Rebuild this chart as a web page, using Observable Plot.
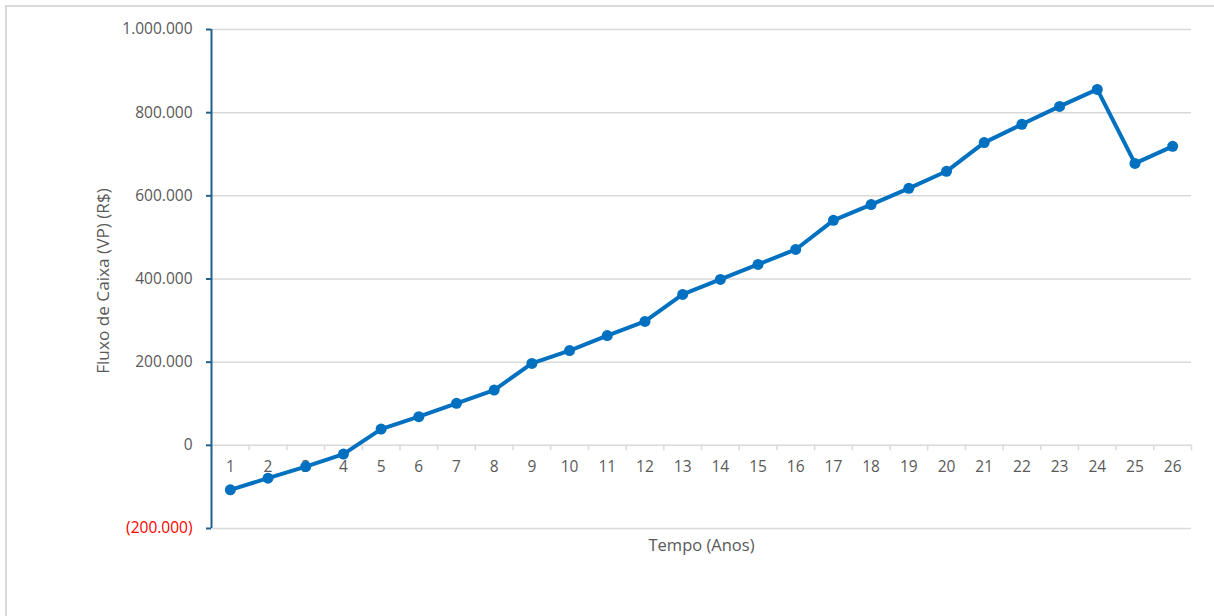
<!DOCTYPE html>
<html>
<head>
<meta charset="utf-8">
<script src="https://cdn.jsdelivr.net/npm/d3@7"></script>
<script src="https://cdn.jsdelivr.net/npm/@observablehq/plot@0.6"></script>
<style>
  html, body { margin: 0; padding: 0; background: #fff; overflow: hidden; }
  #wrap { position: relative; width: 1214px; height: 616px; }
  #frame { position: absolute; left: 5px; top: 5px; width: 1300px; height: 700px;
           border: 2px solid #d9d9d9; box-sizing: border-box; pointer-events: none; }
  #chart { position: absolute; left: 0; top: 0; }
</style>
</head>
<body>
<div id="wrap"><div id="frame"></div><div id="chart"></div></div>
<script>
const years = [1,2,3,4,5,6,7,8,9,10,11,12,13,14,15,16,17,18,19,20,21,22,23,24,25,26];
const fluxo = [-107000,-79000,-51000,-21000,39000,69000,101000,133000,197000,228000,264000,298000,363000,399000,435000,471000,541000,579000,618000,659000,728000,772000,815000,856000,678000,719000];
const yTicks = [-200000,0,200000,400000,600000,800000,1000000];
const yTitle = "Fluxo de Caixa (VP) (R$)";
const xTitle = "Tempo (Anos)";

const data = years.map((t, i) => ({t, v: fluxo[i]}));
const boundaries = d3.range(0, years.length + 1).map(i => i + 0.5);

const fmt = d => {
  const s = Math.abs(d).toLocaleString("de-DE");
  return d < 0 ? `(${s})` : s;
};
const font = "Open Sans, Liberation Sans, sans-serif";
const gray = "#595959";

const chart = Plot.plot({
  width: 1214,
  height: 616,
  marginLeft: 211,
  marginRight: 23,
  marginTop: 29,
  marginBottom: 88,
  style: {fontFamily: font, fontSize: "15px", background: "transparent", overflow: "visible"},
  x: {domain: [0.5, years.length + 0.5], axis: null},
  y: {domain: [-200000, 1000000], axis: null},
  marks: [
    Plot.ruleY(yTicks, {stroke: "#d9d9d9", strokeWidth: 1.5}),
    Plot.ruleX(boundaries, {y1: 0, y2: -13000, stroke: "#d9d9d9", strokeWidth: 1.5}),
    Plot.text(years, {x: d => d, y: 0, dy: 22, text: d => String(d), fill: gray, fontSize: 15.5}),
    Plot.axisY({ticks: yTicks, tickSize: 5, tickPadding: 14, tickFormat: fmt, stroke: "#22608c",
                strokeWidth: 2, fill: gray, fontSize: 15.5, label: null}),
    Plot.ruleX([0.5], {y1: -200000, y2: 1000000, stroke: "#22608c", strokeWidth: 2}),
    Plot.line(data, {x: "t", y: "v", stroke: "#0070C0", strokeWidth: 4, strokeLinejoin: "round"}),
    Plot.dot(data, {x: "t", y: "v", r: 5.5, fill: "#0070C0", stroke: "none"}),
    Plot.text([yTitle], {frameAnchor: "left", textAnchor: "middle", lineAnchor: "middle",
                         dx: -108, dy: 2, rotate: -90, fill: gray, fontSize: 17.2}),
    Plot.text([xTitle], {frameAnchor: "bottom", textAnchor: "middle", lineAnchor: "middle",
                         dy: 17, fill: gray, fontSize: 16.5})
  ]
});

// color negative tick labels red
d3.select(chart).selectAll("text").each(function() {
  const t = this.textContent;
  if (t.startsWith("(") && /\d/.test(t) && t !== yTitle) d3.select(this).attr("fill", "#FF0000");
});

document.getElementById("chart").appendChild(chart);
</script>
</body>
</html>
